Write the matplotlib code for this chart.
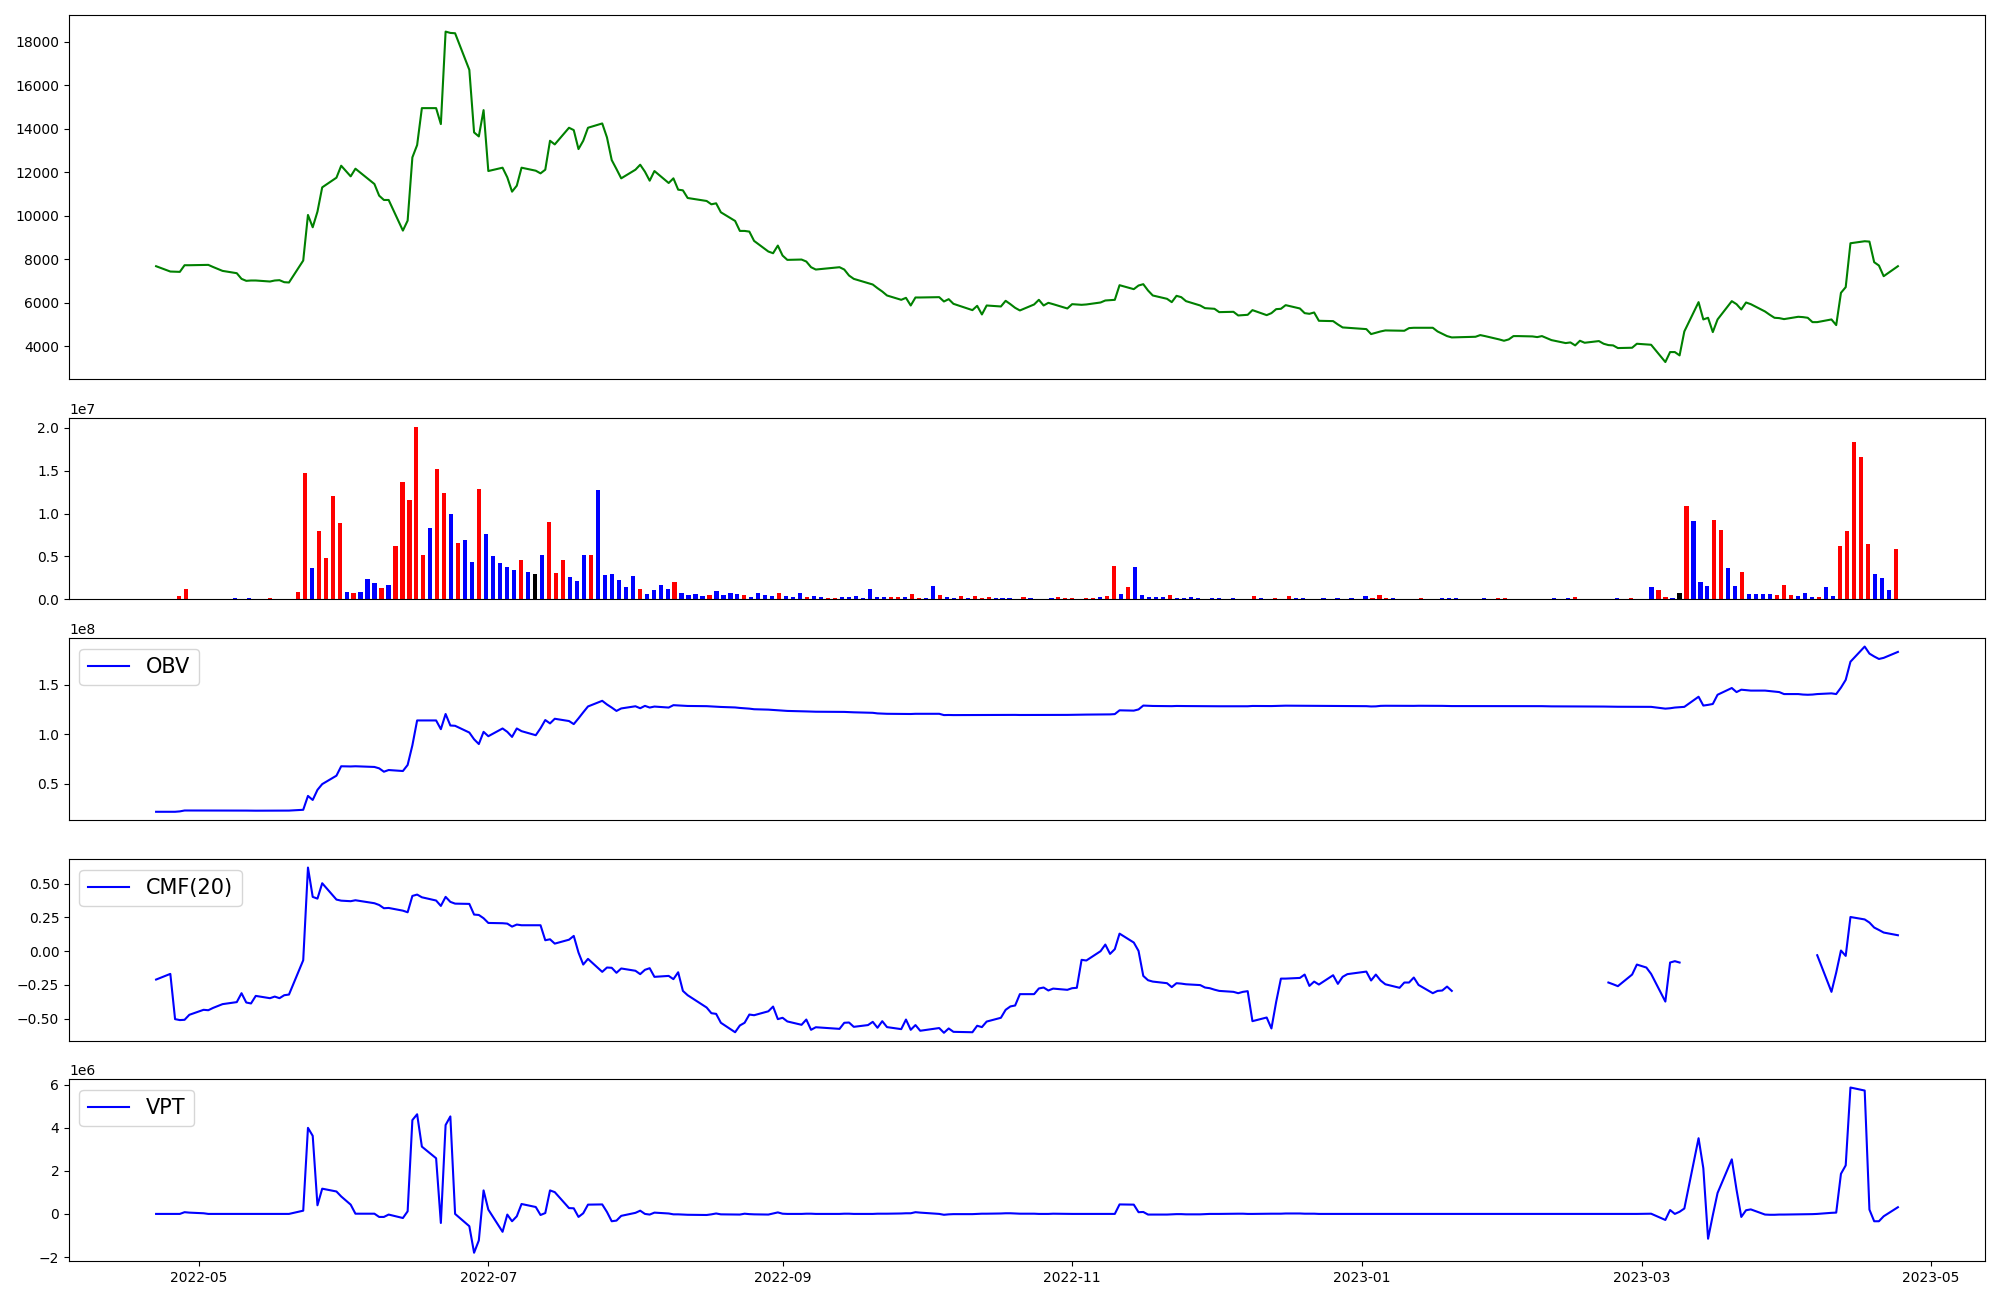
import numpy as np
import pandas as pd
import matplotlib
matplotlib.use("Agg")
import matplotlib.pyplot as plt
import matplotlib.dates as mdates

nan = np.nan

# ── 1. TRADING CALENDAR ─────────────────────────────────────────────────────

start_date = "2022-04-22"
end_date = "2023-04-24"
market_holidays = ["2022-05-05", "2022-06-01", "2022-06-06", "2022-08-15",
                   "2022-09-09", "2022-09-12", "2022-10-03", "2022-10-10",
                   "2022-12-30", "2023-01-23", "2023-01-24", "2023-03-01"]

days = pd.bdate_range(start_date, end_date)
days = days[~days.isin(pd.to_datetime(market_holidays))]

# ── 2. DATA ─────────────────────────────────────────────────────────────────

close = [
    7685, 7440, 7430, 7425, 7730, 7730, 7745, 7746, 7650, 7470,
    7364, 7104, 7013, 7028, 7028, 6982, 7028, 7043, 6951, 6936,
    7945, 10040, 9474, 10192, 11308, 11752, 12302, 11813, 12165, 11462,
    10926, 10728, 10728, 9321, 9780, 12685, 13251, 14948, 14948, 14214,
    18464, 18403, 18388, 16706, 13832, 13648, 14856, 12058, 12211, 11767,
    11110, 11385, 12211, 12073, 11951, 12119, 13449, 13281, 14046, 13939,
    13067, 13449, 14046, 14244, 13602, 12562, 12150, 11722, 12119, 12348,
    12027, 11614, 12058, 11508, 11722, 11202, 11171, 10819, 10682, 10529,
    10575, 10162, 9765, 9306, 9306, 9275, 8847, 8360, 8281, 8633,
    8174, 7976, 7991, 7900, 7639, 7532, 7639, 7532, 7257, 7104,
    6905, 6844, 6676, 6523, 6340, 6141, 6232, 5880, 6248, 6248,
    6263, 6064, 6171, 5957, 5667, 5865, 5468, 5880, 5835, 6095,
    5941, 5773, 5652, 5927, 6141, 5880, 6003, 5941, 5743, 5941,
    5927, 5911, 5927, 6018, 6110, 6125, 6140, 6813, 6630, 6798,
    6859, 6569, 6340, 6187, 6034, 6324, 6263, 6080, 5880, 5758,
    5743, 5728, 5575, 5590, 5422, 5437, 5452, 5667, 5437, 5529,
    5712, 5728, 5896, 5743, 5529, 5498, 5559, 5177, 5162, 5009,
    4872, 4856, 4795, 4566, 4627, 4688, 4734, 4719, 4719, 4841,
    4856, 4856, 4856, 4688, 4581, 4474, 4413, 4443, 4520, 4474,
    4321, 4260, 4321, 4474, 4474, 4459, 4428, 4474, 4382, 4290,
    4153, 4183, 4046, 4260, 4168, 4245, 4122, 4061, 4046, 3924,
    3939, 4122, 4092, 4076, 3282, 3740, 3740, 3587, 4688, 6034,
    5239, 5315, 4658, 5239, 6079, 5941, 5697, 6018, 5941, 5605,
    5453, 5315, 5300, 5254, 5361, 5346, 5315, 5116, 5116, 5239,
    4979, 6462, 6722, 8740, 8832, 8816, 7869, 7716, 7226, 7685,
]

# volume in millions of shares
volume_m = [
    0, 0, 0, 0.35, 1.16, 0, 0, 0, 0, 0,
    0, 0.12, 0, 0.12, 0, 0, 0.12, 0, 0, 0,
    0.81, 14.74, 3.60, 8.01, 4.76, 12.07, 8.94, 0.81, 0.70, 0.81,
    2.32, 1.86, 1.28, 1.63, 6.27, 13.70, 11.61, 20.09, 5.11, 8.36,
    15.21, 12.42, 9.98, 6.62, 6.97, 4.30, 12.89, 7.66, 4.99, 4.18,
    3.72, 3.37, 4.53, 3.13, 2.90, 5.22, 9.06, 3.02, 4.53, 2.55,
    2.09, 5.11, 5.22, 12.77, 2.79, 2.90, 2.21, 1.39, 2.67, 1.16,
    0.58, 1.04, 1.63, 1.16, 1.97, 0.70, 0.46, 0.58, 0.35, 0.46,
    0.93, 0.46, 0.70, 0.58, 0.46, 0.23, 0.70, 0.46, 0.35, 0.70,
    0.35, 0.23, 0.70, 0.23, 0.35, 0.23, 0.12, 0.12, 0.23, 0.23,
    0.35, 0.12, 1.16, 0.23, 0.23, 0.23, 0.23, 0.23, 0.58, 0.12,
    0.12, 1.51, 0.46, 0.23, 0.12, 0.35, 0.12, 0.35, 0.12, 0.23,
    0.12, 0.12, 0.12, 0, 0.23, 0.12, 0, 0, 0.12, 0.23,
    0.12, 0.12, 0, 0.12, 0.12, 0.23, 0.35, 3.83, 0.58, 1.39,
    3.72, 0.46, 0.23, 0.23, 0.23, 0.46, 0.12, 0.12, 0.23, 0.12,
    0, 0.12, 0.12, 0, 0.12, 0, 0, 0.35, 0.12, 0,
    0.12, 0, 0.35, 0.12, 0.12, 0, 0, 0.12, 0, 0.12,
    0, 0.12, 0, 0.35, 0.12, 0.46, 0.12, 0.12, 0, 0,
    0, 0.12, 0, 0, 0.12, 0.12, 0.12, 0, 0, 0,
    0.12, 0, 0.12, 0.12, 0, 0, 0, 0, 0, 0,
    0.12, 0, 0.12, 0.23, 0, 0, 0, 0, 0, 0.12,
    0, 0.12, 0, 0, 1.39, 1.04, 0.23, 0.12, 0.70, 10.91,
    9.17, 1.97, 1.51, 9.29, 8.13, 3.60, 1.51, 3.13, 0.58, 0.58,
    0.58, 0.58, 0.46, 1.63, 0.46, 0.35, 0.70, 0.23, 0.23, 1.39,
    0.35, 6.27, 8.01, 18.34, 16.60, 6.50, 2.90, 2.44, 1.04, 5.81,
]

# candle direction: 1 = up (red), -1 = down (blue), 0 = unchanged (black)
candle_dir = [
    0, 0, 0, 1, 1, 0, 0, 0, 0, 0,
    0, -1, 0, -1, 0, 0, 1, 0, 0, 0,
    1, 1, -1, 1, 1, 1, 1, -1, 1, -1,
    -1, -1, 1, -1, 1, 1, 1, 1, 1, -1,
    1, 1, -1, 1, -1, -1, 1, -1, -1, -1,
    -1, -1, 1, -1, 0, -1, 1, 1, 1, -1,
    -1, -1, 1, -1, -1, -1, -1, -1, -1, 1,
    -1, -1, -1, -1, 1, -1, -1, -1, -1, 1,
    -1, -1, -1, -1, 1, -1, -1, -1, -1, 1,
    -1, -1, -1, 1, -1, -1, 1, 1, -1, -1,
    -1, -1, -1, -1, -1, 1, 1, -1, 1, 1,
    -1, -1, 1, -1, -1, 1, -1, 1, 1, 1,
    -1, -1, -1, 0, 1, -1, 0, 0, -1, 1,
    1, 1, 0, 1, 1, -1, 1, 1, -1, 1,
    -1, -1, -1, -1, -1, 1, -1, -1, -1, -1,
    0, -1, -1, 0, -1, 0, 0, 1, -1, 0,
    1, 0, 1, -1, -1, 0, 0, -1, 0, -1,
    0, -1, 0, -1, 1, 1, 1, -1, 0, 0,
    0, 1, 0, 0, -1, -1, -1, 0, 0, 0,
    -1, 0, 1, 1, 0, 0, 0, 0, 0, 0,
    -1, 0, -1, 1, 0, 0, 0, 0, 0, -1,
    0, 1, 0, 0, -1, 1, 1, -1, 0, 1,
    -1, -1, -1, 1, 1, -1, -1, 1, -1, -1,
    -1, -1, 1, 1, 1, -1, -1, -1, 1, -1,
    -1, 1, 1, 1, 1, 1, -1, -1, -1, 1,
]

# on-balance volume, units of 1e8
obv_1e8 = [
    0.218, 0.218, 0.218, 0.222, 0.231, 0.231, 0.231, 0.231, 0.231, 0.231,
    0.231, 0.230, 0.230, 0.229, 0.229, 0.229, 0.230, 0.230, 0.230, 0.230,
    0.238, 0.378, 0.337, 0.439, 0.497, 0.582, 0.677, 0.675, 0.677, 0.670,
    0.656, 0.622, 0.639, 0.629, 0.690, 0.888, 1.139, 1.139, 1.139, 1.051,
    1.204, 1.088, 1.085, 1.017, 0.949, 0.901, 1.024, 0.980, 1.058, 1.024,
    0.973, 1.058, 1.031, 0.990, 1.060, 1.143, 1.109, 1.156, 1.133, 1.102,
    1.160, 1.221, 1.280, 1.337, 1.300, 1.269, 1.235, 1.260, 1.282, 1.262,
    1.286, 1.269, 1.279, 1.269, 1.293, 1.290, 1.288, 1.285, 1.283, 1.280,
    1.278, 1.275, 1.270, 1.265, 1.262, 1.258, 1.252, 1.248, 1.245, 1.242,
    1.238, 1.235, 1.232, 1.230, 1.228, 1.227, 1.226, 1.225, 1.223, 1.221,
    1.218, 1.216, 1.210, 1.208, 1.206, 1.205, 1.204, 1.204, 1.206, 1.206,
    1.206, 1.193, 1.194, 1.193, 1.193, 1.194, 1.193, 1.194, 1.195, 1.196,
    1.195, 1.195, 1.194, 1.194, 1.195, 1.195, 1.195, 1.195, 1.195, 1.196,
    1.197, 1.198, 1.198, 1.199, 1.200, 1.200, 1.203, 1.241, 1.238, 1.250,
    1.289, 1.287, 1.285, 1.283, 1.283, 1.285, 1.284, 1.284, 1.283, 1.283,
    1.283, 1.282, 1.282, 1.282, 1.282, 1.282, 1.282, 1.285, 1.284, 1.284,
    1.285, 1.285, 1.288, 1.287, 1.286, 1.286, 1.286, 1.285, 1.285, 1.284,
    1.284, 1.283, 1.283, 1.280, 1.281, 1.286, 1.287, 1.286, 1.286, 1.286,
    1.286, 1.287, 1.287, 1.287, 1.286, 1.285, 1.284, 1.284, 1.284, 1.284,
    1.283, 1.283, 1.284, 1.285, 1.285, 1.284, 1.284, 1.283, 1.282, 1.281,
    1.280, 1.280, 1.279, 1.280, 1.280, 1.279, 1.279, 1.278, 1.278, 1.277,
    1.277, 1.277, 1.276, 1.276, 1.258, 1.262, 1.269, 1.272, 1.276, 1.378,
    1.289, 1.296, 1.305, 1.398, 1.466, 1.425, 1.449, 1.445, 1.440, 1.440,
    1.435, 1.430, 1.425, 1.405, 1.405, 1.400, 1.398, 1.400, 1.405, 1.412,
    1.405, 1.470, 1.548, 1.731, 1.884, 1.813, 1.784, 1.759, 1.770, 1.830,
]

# Chaikin money flow, 20 periods
cmf20 = [
    -0.210, -0.168, -0.503, -0.510, -0.508, -0.471, -0.434, -0.437, -0.420, -0.392,
    -0.377, -0.311, -0.380, -0.387, -0.331, -0.348, -0.336, -0.348, -0.326, -0.321,
    -0.067, 0.619, 0.402, 0.389, 0.503, 0.382, 0.374, 0.370, 0.377, 0.355,
    0.342, 0.318, 0.320, 0.300, 0.288, 0.409, 0.419, 0.399, 0.375, 0.335,
    0.402, 0.365, 0.352, 0.350, 0.271, 0.268, 0.244, 0.209, 0.207, 0.204,
    0.182, 0.197, 0.192, 0.192, 0.192, 0.081, 0.088, 0.056, 0.085, 0.113,
    -0.010, -0.099, -0.057, -0.153, -0.121, -0.123, -0.160, -0.128, -0.145, -0.170,
    -0.138, -0.126, -0.190, -0.183, -0.207, -0.156, -0.294, -0.326, -0.417, -0.459,
    -0.464, -0.530, -0.600, -0.550, -0.530, -0.469, -0.474, -0.445, -0.410, -0.503,
    -0.493, -0.520, -0.545, -0.506, -0.582, -0.563, -0.575, -0.530, -0.528, -0.560,
    -0.547, -0.523, -0.567, -0.518, -0.562, -0.577, -0.506, -0.582, -0.547, -0.589,
    -0.569, -0.604, -0.572, -0.597, -0.600, -0.552, -0.562, -0.521, -0.493, -0.434,
    -0.409, -0.402, -0.318, -0.318, -0.276, -0.269, -0.291, -0.277, -0.286, -0.274,
    -0.271, -0.064, -0.069, 0.000, 0.049, -0.020, 0.015, 0.130, 0.064, 0.002,
    -0.183, -0.215, -0.225, -0.237, -0.266, -0.237, -0.240, -0.245, -0.251, -0.269,
    -0.274, -0.285, -0.294, -0.301, -0.311, -0.301, -0.296, -0.518, -0.491, -0.572,
    -0.375, -0.203, -0.203, -0.198, -0.173, -0.257, -0.225, -0.247, -0.178, -0.242,
    -0.190, -0.170, -0.151, -0.217, -0.173, -0.217, -0.245, -0.271, -0.232, -0.232,
    -0.195, -0.250, -0.311, -0.294, -0.291, -0.262, -0.294, nan, nan, nan,
    nan, nan, nan, nan, nan, nan, nan, nan, nan, nan,
    nan, nan, nan, nan, nan, nan, nan, -0.232, -0.245, -0.259,
    -0.173, -0.099, -0.121, -0.168, -0.373, -0.084, -0.074, -0.084, nan, nan,
    nan, nan, nan, nan, nan, nan, nan, nan, nan, nan,
    nan, nan, nan, nan, nan, nan, nan, nan, -0.030, -0.301,
    -0.158, 0.005, -0.035, 0.253, 0.235, 0.212, 0.175, 0.157, 0.138, 0.118,
]

# volume price trend, units of 1e6
vpt_1e6 = [
    0, 0, 0, 0, 0.08, 0.06, 0.03, 0, 0, 0,
    0, 0, 0, 0, 0, 0, 0, 0, 0, 0,
    0.15, 3.99, 3.62, 0.40, 1.17, 1.04, 0.81, 0.43, 0.01, 0.01,
    -0.14, -0.14, -0.03, -0.19, 0.12, 4.35, 4.62, 3.12, 2.58, -0.42,
    4.12, 4.52, 0.00, -0.57, -1.80, -1.23, 1.09, 0.20, -0.83, -0.03,
    -0.34, -0.11, 0.46, 0.32, -0.05, 0.04, 1.09, 1.01, 0.27, 0.26,
    -0.14, 0.03, 0.43, 0.44, 0.09, -0.34, -0.31, -0.09, 0.05, 0.15,
    0.00, -0.03, 0.06, 0.02, -0.02, -0.02, -0.03, -0.04, -0.05, -0.02,
    0.02, -0.02, -0.03, -0.03, 0.01, -0.01, -0.02, -0.03, 0.02, 0.07,
    0.01, 0.00, 0.00, 0.01, 0.01, 0.00, 0.00, 0.01, 0.01, 0.00,
    0.00, 0.00, 0.01, 0.01, 0.01, 0.02, 0.03, 0.03, 0.08, 0.06,
    0.00, -0.04, -0.02, -0.01, -0.01, 0.00, 0.01, 0.01, 0.02, 0.03,
    0.03, 0.02, 0.01, 0.01, 0.00, 0.00, 0.00, 0.01, 0.00, 0.00,
    0.00, 0.00, 0.00, 0.00, 0.00, 0.00, 0.00, 0.44, 0.43, 0.08,
    0.09, -0.03, -0.03, -0.03, -0.02, -0.01, -0.01, -0.02, -0.02, -0.01,
    0.00, 0.00, 0.00, 0.01, 0.01, 0.01, 0.00, 0.00, 0.01, 0.01,
    0.01, 0.01, 0.02, 0.02, 0.01, 0.01, 0.01, 0.00, 0.00, 0.00,
    0.00, 0.00, 0.00, 0.00, 0.00, 0.00, 0.00, 0.00, 0.00, 0.00,
    0.00, 0.00, 0.00, 0.00, 0.00, 0.00, 0.00, 0.00, 0.00, 0.00,
    0.00, 0.00, 0.00, 0.00, 0.00, 0.00, 0.00, 0.00, 0.00, 0.00,
    0.00, 0.00, 0.00, 0.00, 0.00, 0.00, 0.00, 0.00, 0.00, 0.00,
    0.00, 0.00, 0.01, 0.01, -0.28, 0.18, 0.00, 0.10, 0.25, 3.51,
    2.12, -1.15, -0.06, 0.97, 2.53, 1.12, -0.14, 0.17, 0.21, -0.03,
    -0.04, -0.04, -0.03, -0.03, -0.02, -0.02, -0.01, -0.01, 0.00, 0.05,
    0.06, 1.86, 2.25, 5.86, 5.72, 0.20, -0.34, -0.34, -0.11, 0.31,
]

volume = np.array(volume_m) * 1e6
obv = np.array(obv_1e8) * 1e8
vpt = np.array(vpt_1e6) * 1e6
bar_colors = [{1: "red", -1: "blue", 0: "black"}[d] for d in candle_dir]

# ── 3. FIGURE ───────────────────────────────────────────────────────────────

fig = plt.figure(figsize=(20, 13), dpi=100)
left, width = 0.0345, 0.958

ax_price = fig.add_axes([left, 0.7088, width, 0.2796])
ax_vol = fig.add_axes([left, 0.5390, width, 0.1392])
ax_obv = fig.add_axes([left, 0.3692, width, 0.1398], sharex=ax_price)
ax_cmf = fig.add_axes([left, 0.1992, width, 0.1398], sharex=ax_price)
ax_vpt = fig.add_axes([left, 0.0300, width, 0.1398], sharex=ax_price)

# price
ax_price.plot(days, close, color="green")

# volume bars sit on their own evenly spaced axis
ax_vol.bar(np.arange(len(volume)), volume, width=0.6, color=bar_colors)
ax_vol.tick_params(axis="x", bottom=False, labelbottom=False)

# indicators
ax_obv.plot(days, obv, color="blue", label="OBV")
ax_cmf.plot(days, cmf20, color="blue", label="CMF(20)")
ax_vpt.plot(days, vpt, color="blue", label="VPT")

for ax in (ax_obv, ax_cmf, ax_vpt):
    ax.legend(loc="upper left", fontsize=15)

for ax in (ax_price, ax_obv, ax_cmf):
    ax.tick_params(axis="x", bottom=False, labelbottom=False)

ax_vpt.xaxis.set_major_locator(mdates.MonthLocator(bymonth=[1, 3, 5, 7, 9, 11]))
ax_vpt.xaxis.set_major_formatter(mdates.DateFormatter("%Y-%m"))

fig.savefig("out.png", dpi=100)
